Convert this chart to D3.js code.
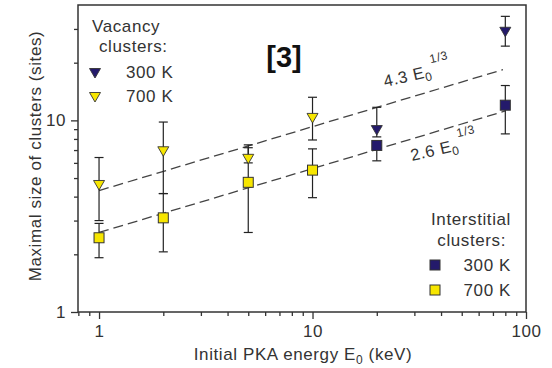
<!DOCTYPE html>
<html><head><meta charset="utf-8">
<script src="https://cdn.jsdelivr.net/npm/d3@7"></script>
<style>
body{margin:0;background:#fff;}
text{font-family:"Liberation Sans",Arial,sans-serif;fill:#333;letter-spacing:0.6px;}
</style></head>
<body><svg id="c" width="552" height="368"></svg>
<script>
// ---- data ----
const vac300 = [ {e:20, v:8.9, lo:8.2, hi:11.7}, {e:80, v:29, lo:24.4, hi:34.9} ];
const vac700 = [ {e:1, v:4.6, lo:3.0, hi:6.4}, {e:2, v:6.9, lo:4.15, hi:9.8}, {e:5, v:6.3, lo:6.0, hi:7.45}, {e:10, v:10.3, lo:7.9, hi:13.2} ];
const int300 = [ {e:20, v:7.4, lo:6.15, hi:7.7}, {e:80, v:12.0, lo:8.5, hi:15.2} ];
const int700 = [ {e:1, v:2.44, lo:1.92, hi:2.9}, {e:2, v:3.1, lo:2.06, hi:4.15}, {e:5, v:4.75, lo:2.6, hi:7.2}, {e:10, v:5.5, lo:3.95, hi:7.1} ];
const fitVac = [ {e:1, v:4.3}, {e:78, v:18.4} ];
const fitInt = [ {e:1, v:2.6}, {e:80, v:11.2} ];
const xMajor = [1, 10, 100];
const yMajor = [1, 10];

const navy = "#241a6b", yellow = "#f7e600";
const svg = d3.select("#c");
const L=78, R=526, T=5, B=312;
const x = d3.scaleLog().domain([0.797,100]).range([L,R]);
const y = d3.scaleLog().domain([1,40]).range([B,T]);

// minor ticks
const xMinor = [0.8,0.9,2,3,4,5,6,7,8,9,20,30,40,50,60,70,80,90];
const yMinor = [2,3,4,5,6,7,8,9,20,30];

const xAxis = d3.axisBottom(x).tickValues(xMajor).tickFormat(d3.format("d")).tickSize(7).tickPadding(6);
const yAxis = d3.axisLeft(y).tickValues(yMajor).tickFormat(d3.format("d")).tickSize(7).tickPadding(5);
svg.append("g").attr("transform",`translate(0,${B})`).call(xAxis);
svg.append("g").attr("transform",`translate(${L},0)`).call(yAxis);
svg.append("g").attr("transform",`translate(0,${B})`).call(d3.axisBottom(x).tickValues(xMinor).tickFormat("").tickSize(4));
svg.append("g").attr("transform",`translate(${L},0)`).call(d3.axisLeft(y).tickValues(yMinor).tickFormat("").tickSize(4));
svg.selectAll(".domain").remove();
svg.selectAll(".tick line").attr("stroke","#333").attr("stroke-width",1.3);
svg.selectAll(".tick text").attr("font-size",17).attr("fill","#333").attr("font-family","Liberation Sans, Arial, sans-serif");
svg.append("rect").attr("x",L).attr("y",T).attr("width",R-L).attr("height",B-T)
  .attr("fill","none").attr("stroke","#333").attr("stroke-width",1.5);

// fit lines
const line = d3.line().x(d=>x(d.e)).y(d=>y(d.v));
[fitVac, fitInt].forEach(f=>{
  svg.append("path").attr("d",line(f)).attr("fill","none").attr("stroke","#444")
    .attr("stroke-width",1.3).attr("stroke-dasharray","10,5");
});

// error bars
function errs(data){
  const g = svg.append("g").attr("stroke","#222").attr("stroke-width",1.2);
  data.forEach(d=>{
    g.append("line").attr("x1",x(d.e)).attr("x2",x(d.e)).attr("y1",y(d.lo)).attr("y2",y(d.hi));
    [d.lo,d.hi].forEach(v=>g.append("line").attr("x1",x(d.e)-4.5).attr("x2",x(d.e)+4.5).attr("y1",y(v)).attr("y2",y(v)));
  });
}
[vac300,vac700,int300,int700].forEach(errs);

function tri(g,cx,cy,fill){
  g.append("path").attr("d",`M${cx-5.5},${cy-4.5}L${cx+5.5},${cy-4.5}L${cx},${cy+5}Z`)
   .attr("fill",fill).attr("stroke","#333").attr("stroke-width",0.9);
}
function sq(g,cx,cy,fill){
  g.append("rect").attr("x",cx-5).attr("y",cy-5).attr("width",10).attr("height",10)
   .attr("fill",fill).attr("stroke","#333").attr("stroke-width",1);
}
const mg = svg.append("g");
vac700.forEach(d=>tri(mg,x(d.e),y(d.v),yellow));
vac300.forEach(d=>tri(mg,x(d.e),y(d.v),navy));
int700.forEach(d=>sq(mg,x(d.e),y(d.v),yellow));
int300.forEach(d=>sq(mg,x(d.e),y(d.v),navy));

// fit labels
function fitLabel(px,py,coef){
  const t = svg.append("text").attr("transform",`translate(${px},${py}) rotate(-13)`).attr("font-size",16.5);
  t.append("tspan").text(coef+" E");
  t.append("tspan").attr("font-size",12).attr("dy",4).text("0");
  t.append("tspan").attr("font-size",12).attr("dy",-17).attr("dx",1).text("1/3");
}
fitLabel(385,87,"4.3");
fitLabel(412,161,"2.6");

// big label
svg.append("text").attr("x",284).attr("y",67).attr("text-anchor","middle").attr("font-size",29)
  .attr("font-weight","bold").style("fill","#111").style("letter-spacing","0px").text("[3]");

// axis titles
svg.append("text").attr("transform","translate(41,156) rotate(-90)").attr("text-anchor","middle")
  .attr("font-size",17).text("Maximal size of clusters (sites)");
const xt = svg.append("text").attr("x",303).attr("y",360).attr("text-anchor","middle").attr("font-size",17);
xt.append("tspan").text("Initial PKA energy E");
xt.append("tspan").attr("font-size",12).attr("dy",4).text("0");
xt.append("tspan").attr("dy",-4).text(" (keV)");

// legends
const lg = svg.append("g");
lg.append("text").attr("x",92).attr("y",32).attr("font-size",17).text("Vacancy");
lg.append("text").attr("x",99).attr("y",52).attr("font-size",17).text("clusters:");
tri(lg,95,73,navy); lg.append("text").attr("x",126).attr("y",78).attr("font-size",17).text("300 K");
tri(lg,95,97,yellow); lg.append("text").attr("x",126).attr("y",102).attr("font-size",17).text("700 K");
lg.append("text").attr("x",511).attr("y",225).attr("text-anchor","end").attr("font-size",17).text("Interstitial");
lg.append("text").attr("x",506).attr("y",246).attr("text-anchor","end").attr("font-size",17).text("clusters:");
sq(lg,435,265,navy); lg.append("text").attr("x",511).attr("y",271).attr("text-anchor","end").attr("font-size",17).text("300 K");
sq(lg,435,290,yellow); lg.append("text").attr("x",511).attr("y",296).attr("text-anchor","end").attr("font-size",17).text("700 K");
</script></body></html>
